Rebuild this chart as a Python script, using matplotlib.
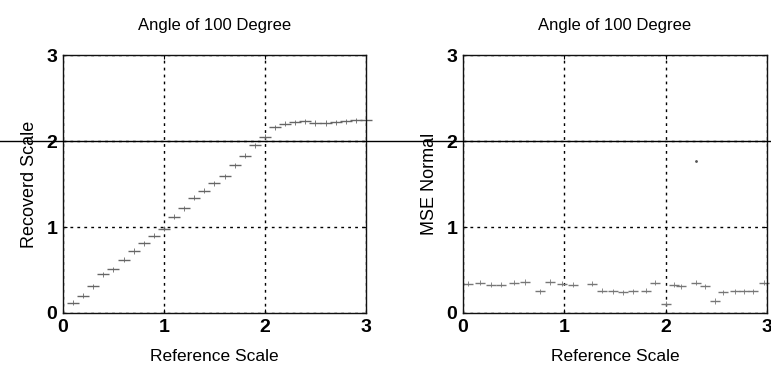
import numpy as np
import matplotlib
matplotlib.use("Agg")
import matplotlib.pyplot as plt
from matplotlib.lines import Line2D

plt.rcParams['font.family'] = ['Liberation Sans', 'DejaVu Sans']

# reference scale samples
ref_scale = [0.1, 0.2, 0.3, 0.4, 0.5, 0.6, 0.7, 0.8, 0.9, 1.0,
             1.1, 1.2, 1.3, 1.4, 1.5, 1.6, 1.7, 1.8, 1.9, 2.0,
             2.1, 2.2, 2.3, 2.4, 2.5, 2.6, 2.7, 2.8, 2.9, 3.0]
# recovered scale (left panel)
recovered = [0.12, 0.20, 0.31, 0.45, 0.51, 0.62, 0.72, 0.81, 0.90, 0.98,
             1.12, 1.22, 1.34, 1.42, 1.51, 1.59, 1.72, 1.83, 1.95, 2.05,
             2.16, 2.20, 2.22, 2.23, 2.21, 2.21, 2.22, 2.23, 2.24, 2.25]
# mse normal (right panel)
mse_x = [0.05, 0.17, 0.28, 0.38, 0.5, 0.61, 0.76, 0.86, 0.98, 1.09,
         1.27, 1.37, 1.48, 1.58, 1.68, 1.81, 1.9, 2.0, 2.08, 2.15,
         2.3, 2.39, 2.49, 2.57, 2.69, 2.78, 2.86, 2.97]
mse = [0.34, 0.35, 0.33, 0.33, 0.35, 0.36, 0.25, 0.36, 0.34, 0.33,
       0.34, 0.26, 0.25, 0.24, 0.25, 0.26, 0.35, 0.11, 0.33, 0.31,
       0.35, 0.31, 0.14, 0.24, 0.25, 0.25, 0.25, 0.35]
mse_outlier_x = [2.3]
mse_outlier = [1.77]

ticks = [0, 1, 2, 3]

fig = plt.figure(figsize=(7.71, 3.76), dpi=100)
ax1 = fig.add_axes([0.0817, 0.1676, 0.393, 0.686])
ax2 = fig.add_axes([0.6005, 0.1676, 0.394, 0.686])


def style(ax, ylabel):
    ax.set_xlim(0, 3)
    ax.set_ylim(0, 3)
    ax.set_xticks(ticks)
    ax.set_yticks(ticks)
    ax.tick_params(direction='in', length=3, width=0.8, labelsize=14,
                   top=True, right=True, pad=4)
    for lab in ax.get_xticklabels() + ax.get_yticklabels():
        lab.set_fontweight('bold')
    ax.grid(True, color='black', linestyle=(0, (2, 3)), linewidth=1.0)
    for s in ax.spines.values():
        s.set_linewidth(1.0)
        s.set_color('#111111')
    ax.set_title('Angle of 100 Degree', fontsize=12, pad=18)
    ax.set_xlabel('Reference Scale', fontsize=12.5, labelpad=10)
    ax.set_ylabel(ylabel, fontsize=13, labelpad=6)


ax1.errorbar(ref_scale, recovered, yerr=0.03, fmt='_', color='#666666',
             markersize=9, linewidth=0.6, capsize=0, clip_on=False)
style(ax1, 'Recoverd Scale')

ax2.errorbar(mse_x, mse, yerr=0.03, fmt='_', color='#777777',
             markersize=7, linewidth=0.6, capsize=0, clip_on=False)
ax2.plot(mse_outlier_x, mse_outlier, '.', color='#555555', markersize=2)
style(ax2, 'MSE Normal')

# scan line running across the whole page
y_line = 1 - 141 / 376
fig.add_artist(Line2D([0, 1], [y_line, y_line], transform=fig.transFigure,
                      color='black', linewidth=1.0))

fig.savefig('out.png', dpi=100)
